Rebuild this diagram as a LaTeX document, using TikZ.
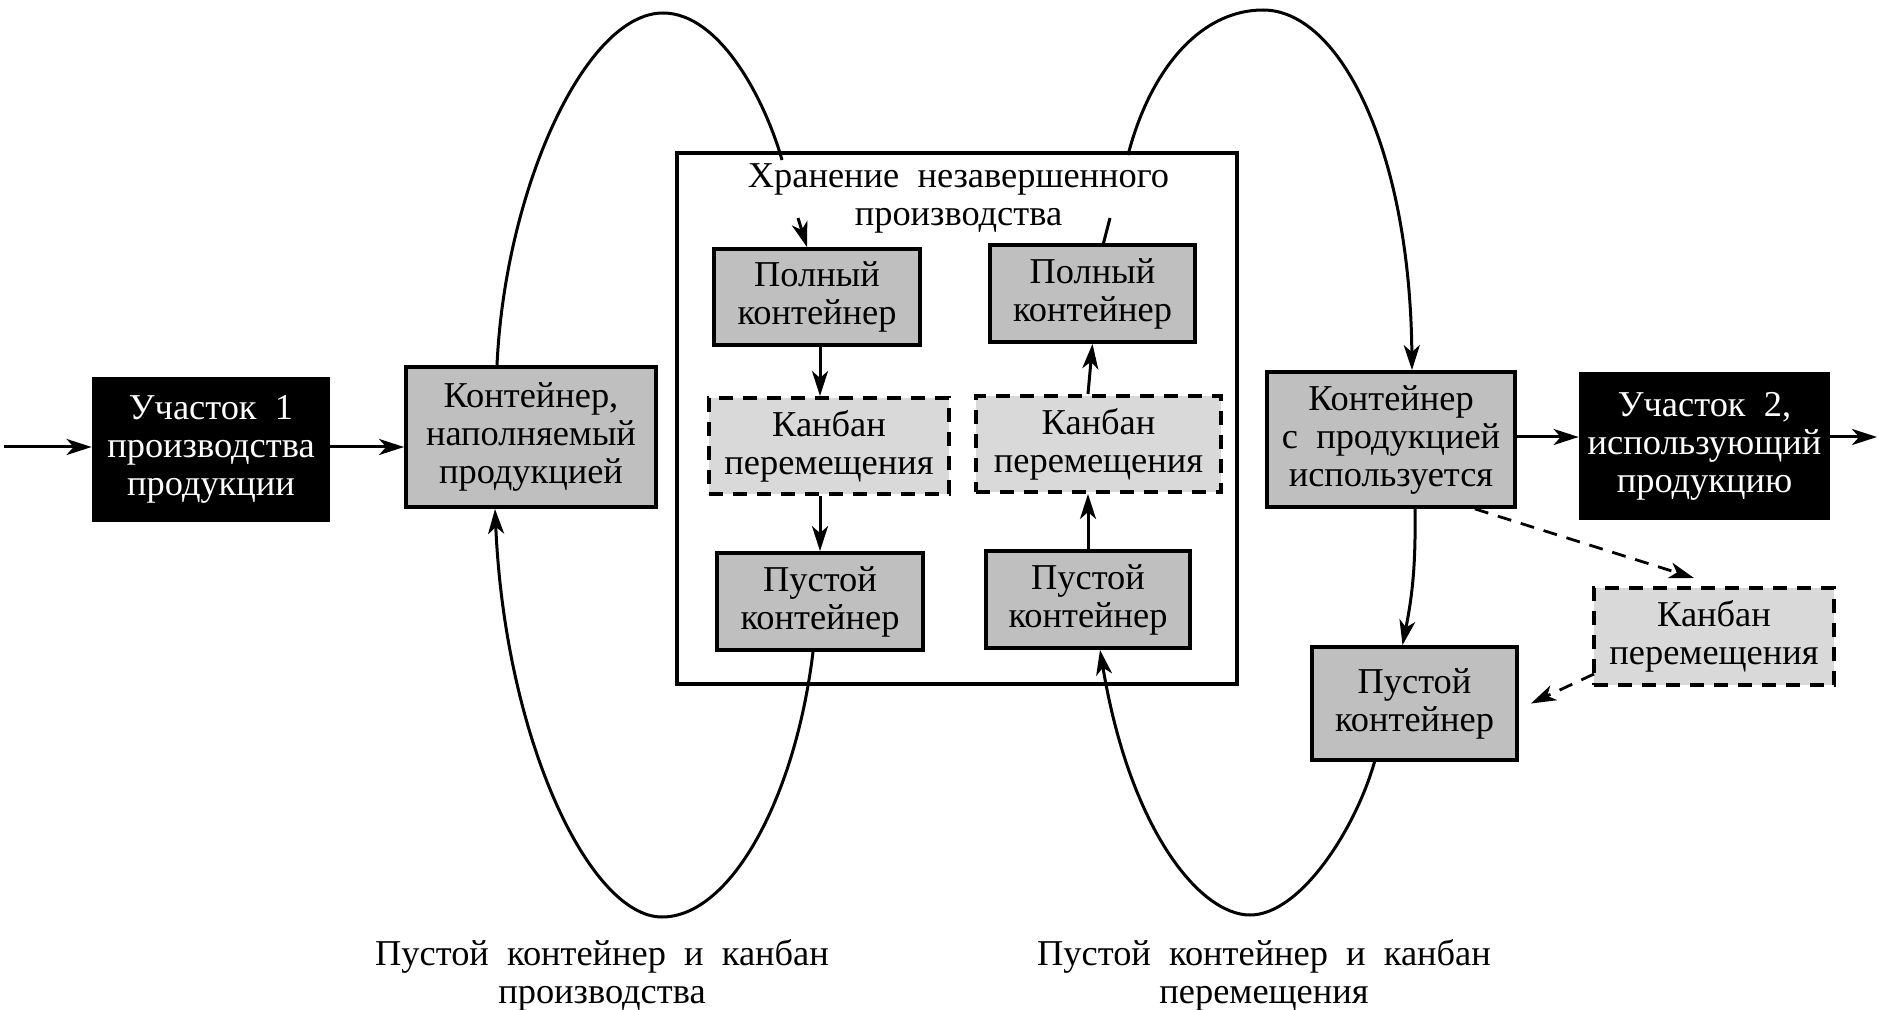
\documentclass[tikz,border=0pt]{standalone}
\usepackage{fontspec}
\setmainfont{Liberation Serif}
\usetikzlibrary{arrows.meta,calc}
\definecolor{boxgray}{gray}{0.75}
\definecolor{kanbangray}{gray}{0.85}

\begin{document}
\begin{tikzpicture}[x=0.5pt,y=-0.5pt,
  font=\fontsize{18.2}{19}\selectfont,
  >={Stealth[length=12.5pt,width=8pt,inset=3.5pt]},
  every node/.style={align=center,inner sep=0pt},
  cont/.style={draw,line width=1.9pt,fill=boxgray},
  kanban/.style={draw,line width=2pt,dash pattern=on 7pt off 5pt,fill=kanbangray},
  shop/.style={fill=black,text=white},
  conn/.style={line width=1.5pt,->},
  kconn/.style={line width=1.4pt,dash pattern=on 7pt off 5pt,->}]
  \useasboundingbox (0,0) rectangle (1879,1010);

  \node[draw,line width=1.7pt,minimum width=280pt,minimum height=265.5pt] (store) at (957,418.5) {};
  \node (title) at (958.5,198) {Хранение\enspace незавершенного\\производства};

  \node[shop,minimum width=119pt,minimum height=72.5pt] (uch1) at (211,449.5) {Участок\enspace 1\\производства\\продукции};
  \node[cont,minimum width=125pt,minimum height=70pt] (fill) at (531,437) {Контейнер,\\наполняемый\\продукцией};
  \node[cont,minimum width=103pt,minimum height=48pt] (full1) at (817,297) {Полный\\контейнер};
  \node[kanban,minimum width=120pt,minimum height=48pt] (kanb1) at (829,446) {Канбан\\перемещения};
  \node[cont,minimum width=103pt,minimum height=48.5pt] (empty1) at (820,601.5) {Пустой\\контейнер};
  \node[cont,minimum width=102.5pt,minimum height=48.5pt] (full2) at (1092.5,293.5) {Полный\\контейнер};
  \node[kanban,minimum width=122.5pt,minimum height=48pt] (kanb2) at (1098.5,444) {Канбан\\перемещения};
  \node[cont,minimum width=102pt,minimum height=48.5pt] (empty2) at (1088,599.5) {Пустой\\контейнер};
  \node[cont,minimum width=124pt,minimum height=67.5pt] (used) at (1391,439.5) {Контейнер\\с\enspace продукцией\\используется};
  \node[shop,minimum width=125.5pt,minimum height=74pt] (uch2) at (1704.5,446) {Участок\enspace 2,\\использующий\\продукцию};
  \node[kanban,minimum width=120pt,minimum height=48.5pt] (kanb3) at (1714,636.5) {Канбан\\перемещения};
  \node[cont,minimum width=102.5pt,minimum height=56.5pt] (empty3) at (1414.5,703.5) {Пустой\\контейнер};

  \node (lab1) at (602,975) {Пустой\enspace контейнер\enspace и\enspace канбан\\производства};
  \node (lab2) at (1264,975) {Пустой\enspace контейнер\enspace и\enspace канбан\\перемещения};

  \coordinate (inL) at (4,447);
  \coordinate (outR) at (1877,437);
  \coordinate (lA) at (782,160);
  \coordinate (lB) at (798,218);
  \coordinate (rA) at (1128,155);
  \coordinate (rB) at (1110,218);

  \draw[conn] (inL) -- (inL -| uch1.west);
  \draw[conn] (uch1.east |- inL) -- (fill.west |- inL);
  \draw[conn] (used.east |- outR) -- (uch2.west |- outR);
  \draw[conn] (uch2.east |- outR) -- (outR);

  \draw[conn] (full1.south -| empty1) -- (kanb1.north -| empty1);
  \draw[conn] (kanb1.south -| empty1) -- (empty1.north);
  \draw[conn] (empty2.north) -- (kanb2.south -| empty2);
  \draw[conn] (kanb2.north -| empty2) -- (full2.south);
  \draw[conn] ($(used.south)+(24,0)$) to[bend left=6] ($(empty3.north)+(-12,0)$);

  \draw[kconn] ($(used.south east)+(-42,0)$) -- ($(kanb3.north)+(-20,-8)$);
  \draw[kconn] ($(kanb3.south west)+(2,-13)$) -- ($(empty3.east)+(12,0)$);

  \draw[line width=1.5pt] ($(fill.north)+(-34,0)$) .. controls (505,190) and (585,13) .. (663,13) .. controls (720,13) and (765,100) .. (lA);
  \draw[conn] (lB) -- ($(full1.north)+(-10,0)$);
  \draw[conn] ($(empty1.south)+(-7,0)$) .. controls (795,800) and (730,917) .. (662,917) .. controls (590,917) and (505,740) .. ($(fill.south)+(-36,0)$);
  \draw[line width=1.5pt] ($(full2.north)+(11,0)$) -- (rB);
  \draw[conn] (rA) .. controls (1150,70) and (1200,10) .. (1263,10) .. controls (1340,10) and (1410,150) .. ($(used.north)+(21,0)$);
  \draw[conn] ($(empty3.south)+(-40,0)$) .. controls (1355,830) and (1300,915) .. (1250,915) .. controls (1200,915) and (1130,830) .. ($(empty2.south)+(12,0)$);
\end{tikzpicture}
\end{document}
